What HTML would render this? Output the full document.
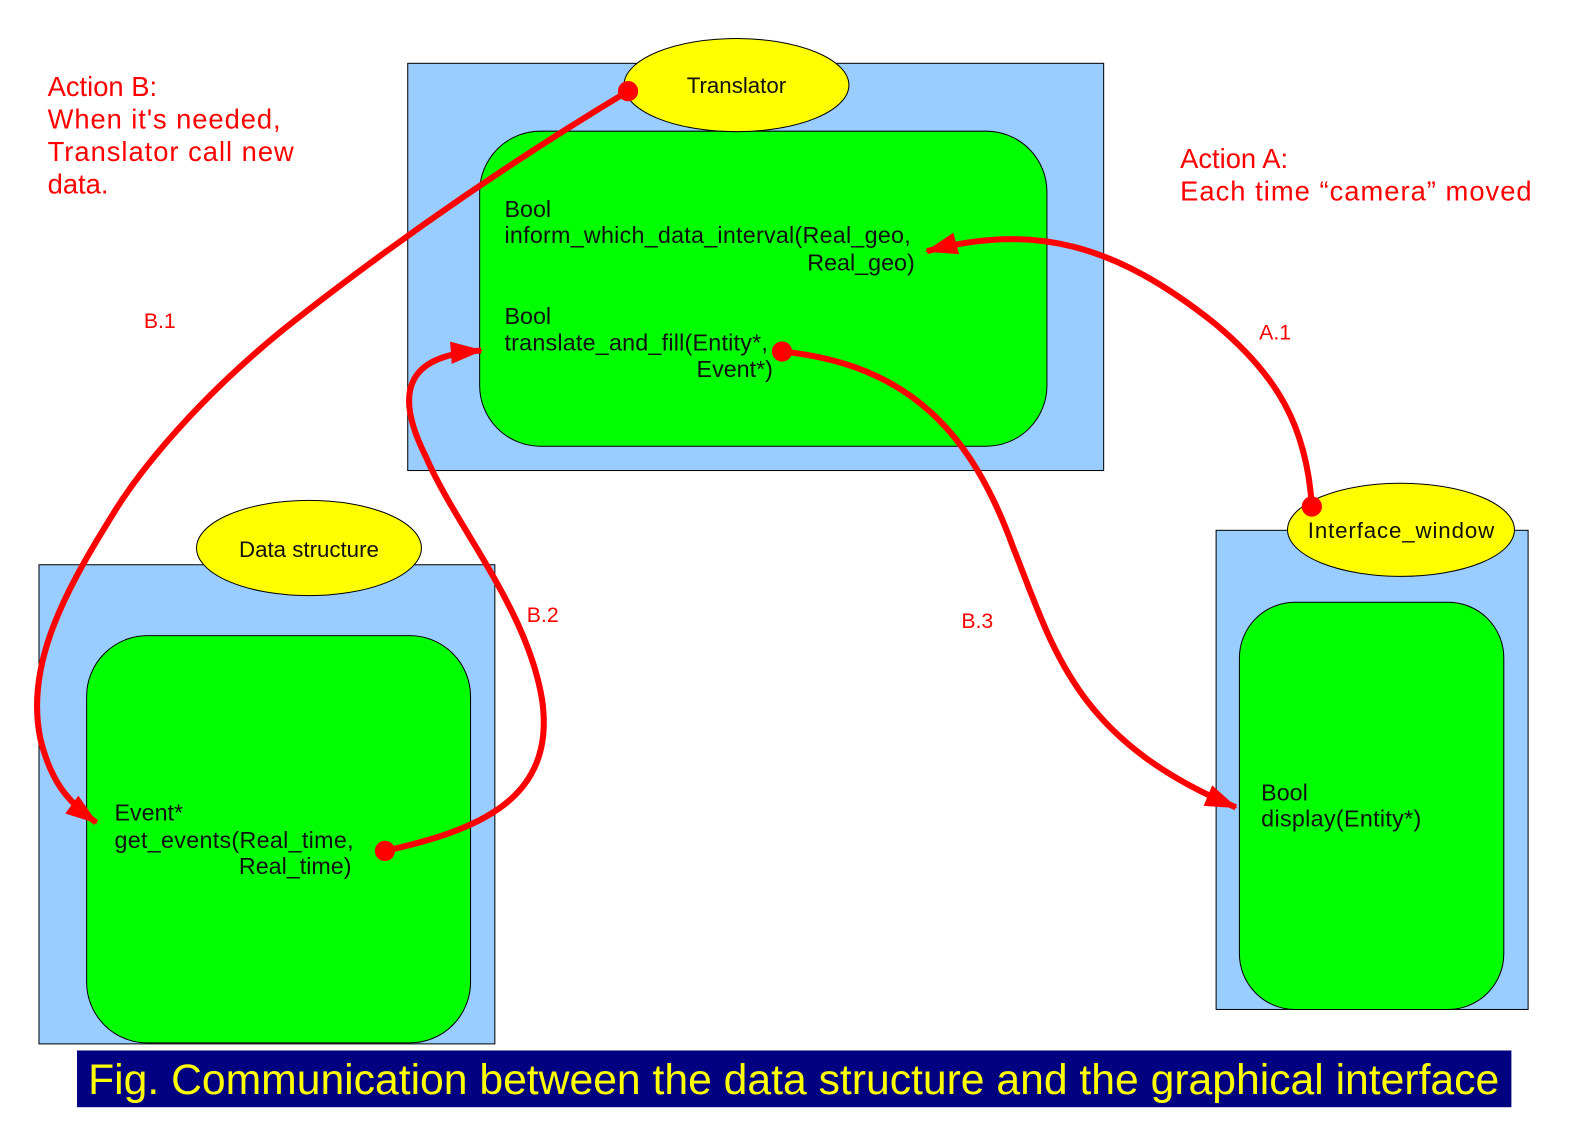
<!DOCTYPE html>
<html><head><style>body{margin:0;background:#fff}svg{display:block}</style></head><body>
<svg width="1588" height="1122" viewBox="0 0 1588 1122" xmlns="http://www.w3.org/2000/svg" font-family="Liberation Sans, sans-serif">
<defs>
<marker id="a2" markerWidth="32" markerHeight="22" refX="30" refY="11" orient="auto" markerUnits="userSpaceOnUse"><path d="M0,0 L32,11 L0,22 z" fill="red"/></marker></defs>
<g transform="scale(1.013)">
<rect x="402.5" y="62.5" width="687" height="402" fill="#99ccff" stroke="#000"/>
<rect x="473.5" y="129.5" width="560" height="311" rx="60" fill="#00ff00" stroke="#000"/>
<ellipse cx="727" cy="84" rx="111" ry="46" fill="#ffff00" stroke="#000"/>
<text x="727" y="92" font-size="22" text-anchor="middle" fill="#111">Translator</text>
<rect x="38.5" y="557.5" width="450" height="473" fill="#99ccff" stroke="#000"/>
<rect x="85.5" y="627.5" width="379" height="402" rx="60" fill="#00ff00" stroke="#000"/>
<ellipse cx="305" cy="541" rx="111" ry="47" fill="#ffff00" stroke="#000"/>
<text x="305" y="550" font-size="22" text-anchor="middle" fill="#111">Data structure</text>
<rect x="1200.5" y="523.5" width="308" height="473" fill="#99ccff" stroke="#000"/>
<rect x="1223.5" y="594.5" width="261" height="402" rx="55" fill="#00ff00" stroke="#000"/>
<ellipse cx="1383" cy="523" rx="112" ry="46" fill="#ffff00" stroke="#000"/>
<text x="1383" y="531" font-size="22" text-anchor="middle" fill="#111" textLength="184">Interface_window</text>
<g font-size="23" fill="#111">
<text x="498" y="214">Bool</text>
<text x="498" y="240" textLength="401">inform_which_data_interval(Real_geo,</text>
<text x="903" y="267" text-anchor="end">Real_geo)</text>
<text x="498" y="320">Bool</text>
<text x="498" y="346" textLength="260">translate_and_fill(Entity*,</text>
<text x="763" y="372" text-anchor="end">Event*)</text>
<text x="113" y="810">Event*</text>
<text x="113" y="837" textLength="236">get_events(Real_time,</text>
<text x="347" y="863" text-anchor="end">Real_time)</text>
<text x="1245" y="790">Bool</text>
<text x="1245" y="816" textLength="158">display(Entity*)</text>
</g>
<g font-size="27" fill="red">
<text x="47" y="95">Action B:</text>
<text x="47" y="127" textLength="230">When it's needed,</text>
<text x="47" y="159" textLength="243">Translator call new</text>
<text x="47" y="191">data.</text>
<text x="1165" y="166">Action A:</text>
<text x="1165" y="198" textLength="347">Each time “camera” moved</text>
</g>
<g font-size="21" fill="red">
<text x="142" y="324">B.1</text>
<text x="1243" y="335">A.1</text>
<text x="520" y="614">B.2</text>
<text x="949" y="620">B.3</text>
</g>
<g fill="none" stroke="red" stroke-width="6">
<path d="M620,90 C520,150 400,230 280,325 C200,390 140,460 110,510 C60,590 25,660 40,730 C50,770 65,790 95,812" marker-end="url(#a2)"/>
<path d="M380,840 C470,820 550,790 535,690 C520,600 450,520 420,450 C380,370 420,350 475,346" marker-end="url(#a2)"/>
<path d="M772,347 C900,360 960,430 1000,540 C1040,640 1060,730 1220,797" marker-end="url(#a2)"/>
<path d="M1295,500 C1290,420 1260,370 1200,320 C1100,240 1020,220 915,248" marker-end="url(#a2)"/>
</g>
<g fill="red"><circle cx="620" cy="90" r="10"/><circle cx="380" cy="840" r="10"/><circle cx="772" cy="347" r="10"/><circle cx="1295" cy="500" r="10"/></g>
<rect x="76" y="1037" width="1416" height="56" fill="#000080"/>
<text x="87" y="1080" font-size="42" fill="#ffff00" textLength="1393" lengthAdjust="spacingAndGlyphs">Fig. Communication between the data structure and the graphical interface</text>
</g>
</svg>
</body></html>
